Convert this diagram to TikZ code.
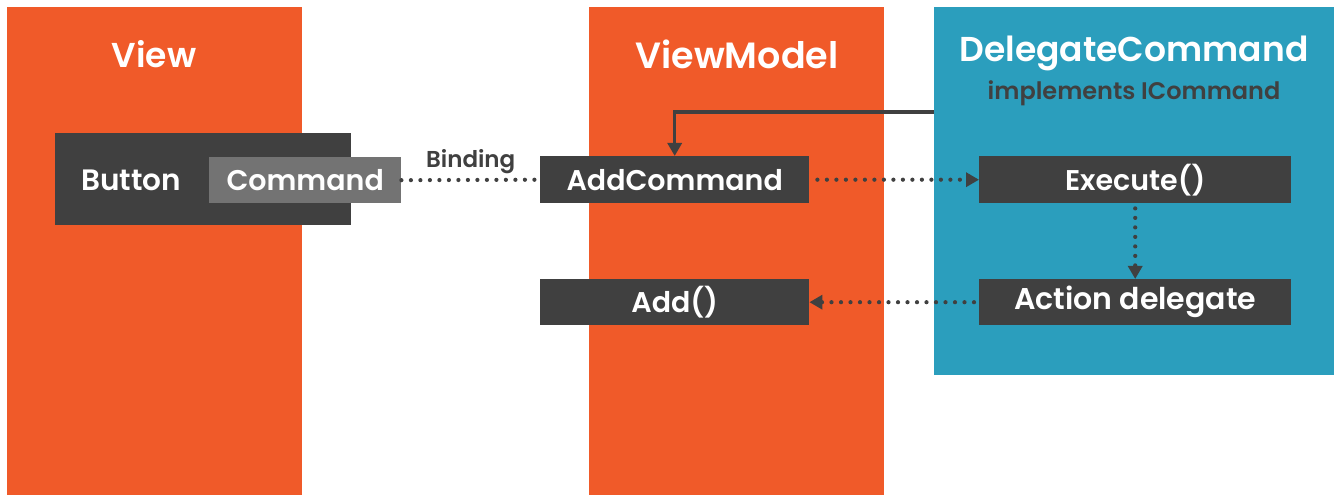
\documentclass[tikz,border=0pt]{standalone}
\usepackage{fontspec}
\setmainfont{Poppins}[BoldFont={Poppins SemiBold}]
\usetikzlibrary{arrows.meta}

\definecolor{vmorange}{HTML}{F05A29}
\definecolor{dcteal}{HTML}{2B9EBD}
\definecolor{boxdark}{HTML}{404040}
\definecolor{boxgray}{HTML}{737373}

\tikzset{
  column/.style={fill=vmorange, draw=none, anchor=north west, inner sep=0pt},
  title/.style={text=white, font=\bfseries\fontsize{34.5}{40}\selectfont},
  member/.style={fill=boxdark, text=white, anchor=north west, inner sep=0pt,
    font=\bfseries\fontsize{28.5}{32}\selectfont},
  dotline/.style={boxdark, line width=4.2pt, line cap=round,
    dash pattern=on 0pt off 9.5pt},
  tip/.style={-{Triangle[length=13pt, width=14pt, line cap=butt]}},
}

\begin{document}
\begin{tikzpicture}[x=1pt, y=-1pt]
    \useasboundingbox[fill=white] (0,0) rectangle (1338,502);
    % the three columns
    \node[column, minimum width=295pt, minimum height=488pt] (view) at (7,7) {};
    \node[column, minimum width=295pt, minimum height=488pt] (viewmodel) at (589,7) {};
    \node[column, fill=dcteal, minimum width=400pt, minimum height=368pt] (delegate) at (934,7) {};
    \node[title] (viewtitle) at (154,54) {View};
    \node[title, font=\bfseries\fontsize{36.5}{40}\selectfont] (vmtitle) at (737,54) {ViewModel};
    \node[title] (dctitle) at (1134,53) {DelegateCommand};
    \node[text=boxdark, font=\bfseries\fontsize{24}{28}\selectfont] (implements) at (1134,93) {implements ICommand};
    % view side
    \node[member, minimum width=296pt, minimum height=92pt] (button) at (55,133) {};
    \node[text=white, font=\bfseries\fontsize{29.5}{32}\selectfont] (buttonlabel) at (131,180) {Button};
    \node[member, fill=boxgray, minimum width=192pt, minimum height=46pt] (command) at (209,157) {Command};
    % viewmodel side
    \node[member, minimum width=269pt, minimum height=47pt] (addcmd) at (540,156) {AddCommand};
    \node[member, minimum width=269pt, minimum height=46pt] (add) at (540,279) {Add()};
    % delegate side
    \node[member, minimum width=312pt, minimum height=47pt] (execute) at (979,156) {Execute()};
    \node[member, minimum width=312pt, minimum height=46pt, font=\bfseries\fontsize{30}{32}\selectfont] (action) at (979,279) {Action delegate};
    \coordinate (hook) at (934,112);
    % connectors
    \draw[dotline] (command.east) -- node[above=1pt, text=boxdark, font=\bfseries\fontsize{23}{26}\selectfont] (binding) {Binding} (addcmd.west);
    \draw[dotline, tip] (addcmd.east) ++(8,0) -- (execute.west);
    \draw[dotline, tip] (execute.south) ++(0,5) -- (action.north);
    \draw[dotline, tip] (action.west) ++(-5,0) -- (add.east);
    \draw[boxdark, line width=3.5pt, tip] (hook) -| (addcmd.north);
\end{tikzpicture}
\end{document}
